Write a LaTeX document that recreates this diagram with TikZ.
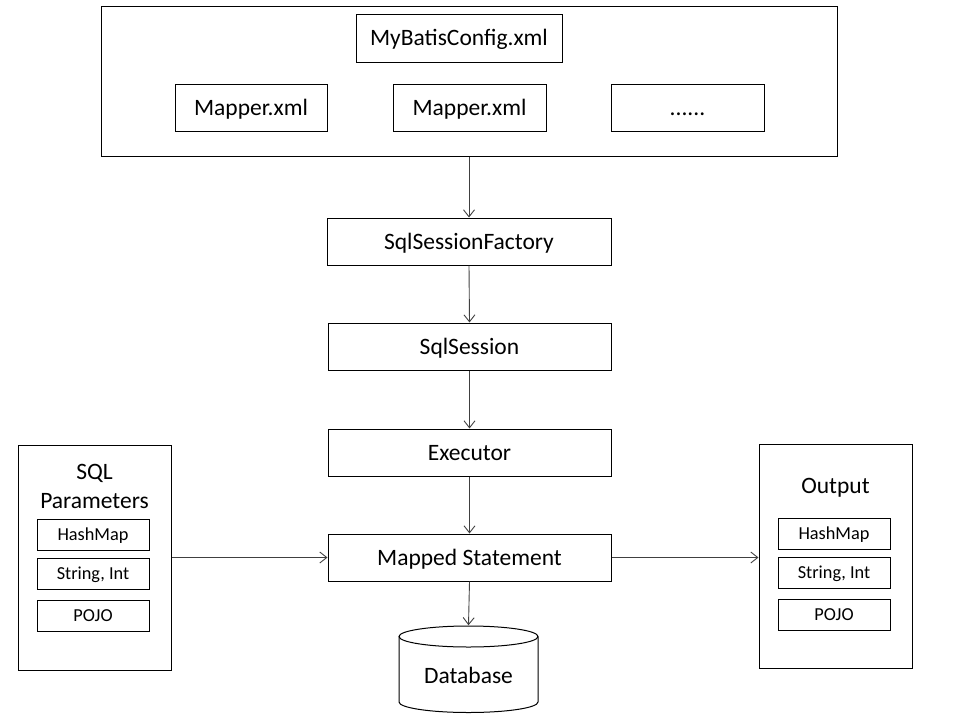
\documentclass[tikz,border=0pt]{standalone}
\usepackage{fontspec}
\setmainfont{Carlito}
\usetikzlibrary{arrows.meta}
\begin{document}
\begin{tikzpicture}[x=1pt,y=-1pt,
  box/.style={draw=black, line width=1pt, inner sep=0pt, text height=18pt, text depth=3pt, font=\fontsize{23.5}{28}\selectfont},
  smallbox/.style={draw=black, line width=1pt, inner sep=0pt, minimum width=112pt, minimum height=31pt, text height=13.5pt, text depth=2.5pt, font=\fontsize{18.3}{22}\selectfont},
  frame/.style={draw=black, line width=1pt, inner sep=0pt},
  lbl/.style={inner sep=0pt, font=\fontsize{23.5}{28}\selectfont},
  arr/.style={draw=black!75, line width=0.9pt, -{Straight Barb[length=7pt,width=11pt]}}]
\useasboundingbox (0,0) rectangle (953,715);
% top group
\node[frame, minimum width=736pt, minimum height=150pt] (top) at (469,81) {};
\node[box, minimum width=206pt, minimum height=48pt] (cfg) at (459,38) {MyBatisConfig.xml};
\node[box, minimum width=152pt, minimum height=47pt] (m1) at (251,107.5) {Mapper.xml};
\node[box, minimum width=153pt, minimum height=47pt] (m2) at (469.5,107.5) {Mapper.xml};
\node[box, minimum width=153pt, minimum height=47pt] (m3) at (687.5,107.5) {......};
% chain
\node[box, minimum width=284pt, minimum height=47pt] (ssf) at (469,241.5) {SqlSessionFactory};
\node[box, minimum width=283pt, minimum height=47pt] (ss) at (469.5,346.5) {SqlSession};
\node[box, minimum width=283pt, minimum height=47pt] (ex) at (469.5,452.5) {Executor};
\node[box, minimum width=283pt, minimum height=47pt] (ms) at (469.5,557.5) {Mapped Statement};
% database
\node[lbl, minimum width=141pt, minimum height=100pt, text height=18pt, text depth=3pt] (db) at (468.5,675.5) {Database};
\draw[line width=1pt] (399,636.5) -- (399,702) arc[start angle=180, end angle=0, x radius=69.5, y radius=10.5] -- (538,636.5);
\draw[line width=1pt] (468.5,636.5) ellipse[x radius=69.5, y radius=10.5];
% SQL parameters
\node[frame, minimum width=153pt, minimum height=225pt] (sp) at (94.5,557.5) {};
\node[lbl] (spt) at (94.5,488) {\begin{tabular}{@{}c@{}}SQL\\[1pt]Parameters\end{tabular}};
\node[smallbox] (sp1) at (93,534.5) {HashMap};
\node[smallbox] (sp2) at (93,573.5) {String, Int};
\node[smallbox] (sp3) at (93,615.5) {POJO};
% Output
\node[frame, minimum width=153pt, minimum height=224pt] (op) at (835.5,556) {};
\node[lbl, text height=18pt, text depth=3pt] (opt) at (835.5,486) {Output};
\node[smallbox] (op1) at (834,534) {HashMap};
\node[smallbox] (op2) at (834,572.5) {String, Int};
\node[smallbox] (op3) at (834,614.5) {POJO};
% connectors
\draw[arr] (top.south) -- (ssf.north);
\draw[arr] (ssf.south) -- (ss.north);
\draw[arr] (ss.south) -- (ex.north);
\draw[arr] (ex.south) -- (ms.north);
\draw[arr] (ms.south) -- (db.north);
\draw[arr] (sp.east |- ms.west) -- (ms.west);
\draw[arr] (ms.east) -- (op.west |- ms.east);
\end{tikzpicture}
\end{document}
